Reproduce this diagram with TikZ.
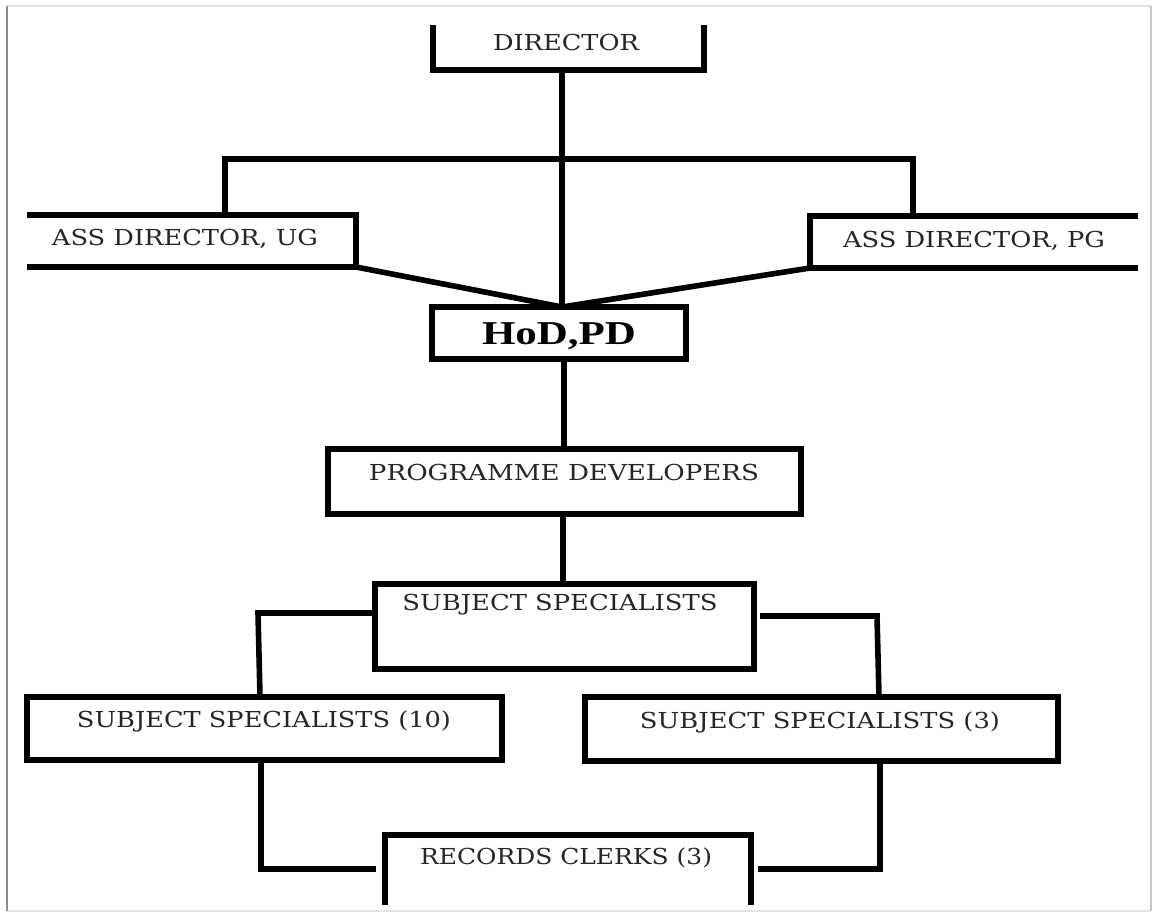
\documentclass[tikz,border=0pt]{standalone}
\usepackage{fontspec}
\setmainfont{DejaVu Serif}
\newfontfamily\hodfont{Liberation Serif}
\usetikzlibrary{fit}
\newlength\pxu
\setlength\pxu{0.75pt}
% set a label to a given width (in px units), keeping its height
\newcommand\fitw[2]{\resizebox{#1\pxu}{\height}{#2}}

\begin{document}
\begin{tikzpicture}[x=0.75pt,y=-0.75pt,
  wire/.style={line width=4.2pt, line join=miter},
  boxed/.style={draw, line width=4.2pt, inner sep=0pt, outer sep=0pt},
  lbl/.style={inner sep=0pt, text=black!85,
    font=\fontsize{16.5pt}{18pt}\selectfont},
  hodlbl/.style={inner sep=0pt, text=black,
    font=\hodfont\bfseries\fontsize{25pt}{27pt}\selectfont}]

% page and its soft frame
\fill[white] (0,0) rectangle (1155,914);
\useasboundingbox (0,0) rectangle (1155,914);
\draw[black!12, line width=1.5pt] (7,6) -- (1151,6);
\draw[black!10, line width=1.5pt] (7,911) -- (1151,911);
\draw[black!45, line width=2pt] (7,6) -- (7,911);
\draw[black!22, line width=1.5pt] (1151,6) -- (1151,911);

% Director (open at the top)
\coordinate (dirTL) at (433,25);
\coordinate (dirBL) at (433,70);
\coordinate (dirBR) at (704,70);
\coordinate (dirTR) at (704,25);
\coordinate (dirS) at (562,70);
\draw[wire] (dirTL) -- (dirBL) -- (dirBR) -- (dirTR);
\node[lbl] (director) at (566,42) {\fitw{146}{DIRECTOR}};

% Assistant directors (open at the outer side)
\coordinate (ugTL) at (27,215);
\coordinate (ugTR) at (356,215);
\coordinate (ugBR) at (356,267);
\coordinate (ugBL) at (27,267);
\draw[wire] (ugTL) -- (ugTR) -- (ugBR) -- (ugBL);
\node[lbl] (assug) at (185,239) {\fitw{266}{ASS DIRECTOR, UG}};

\coordinate (pgTR) at (1138,216);
\coordinate (pgTL) at (810,216);
\coordinate (pgBL) at (810,268);
\coordinate (pgBR) at (1138,268);
\draw[wire] (pgTR) -- (pgTL) -- (pgBL) -- (pgBR);
\node[lbl] (asspg) at (974,241) {\fitw{262}{ASS DIRECTOR, PG}};

% HoD and the lower boxes
\node[boxed, fit={(432,307) (686,359)}] (hod) {};
\node[hodlbl] (hodtxt) at (559,336) {\fitw{154}{HoD,PD}};

\node[boxed, fit={(328,449) (801,514)}] (pd) {};
\node[lbl] (pdtxt) at (564,472) {\fitw{390}{PROGRAMME DEVELOPERS}};

\node[boxed, fit={(375,584) (754,669)}] (ss) {};
\node[lbl] (sstxt) at (560,605) {\fitw{315}{SUBJECT SPECIALISTS}};

\node[boxed, fit={(27,697) (502,760)}] (ssten) {};
\node[lbl] (sstentxt) at (264,721) {\fitw{374}{SUBJECT SPECIALISTS (10)}};

\node[boxed, fit={(585,697) (1058,761)}] (ssthree) {};
\node[lbl] (ssthreetxt) at (820,722) {\fitw{360}{SUBJECT SPECIALISTS (3)}};

% Records clerks (open at the bottom)
\coordinate (rcBL) at (385,905);
\coordinate (rcTL) at (385,835);
\coordinate (rcTR) at (751,835);
\coordinate (rcBR) at (751,905);
\draw[wire] (rcBL) -- (rcTL) -- (rcTR) -- (rcBR);
\node[lbl] (rctxt) at (566,858) {\fitw{292}{RECORDS CLERKS (3)}};

% connectors
\coordinate (barL) at (225,159);
\coordinate (barR) at (913,159);
\coordinate (ugN) at (225,215);
\coordinate (pgN) at (913,216);
\draw[wire] (dirS) -- (hod.north -| dirS);
\draw[wire] (ugN) -- (barL) -- (barR) -- (pgN);
\draw[wire] (ugBR) -- (hod.north -| dirS);
\draw[wire] (pgBL) -- (hod.north -| dirS);
\draw[wire] (hod.south -| 564,0) -- (pd.north -| 564,0);
\draw[wire] (pd.south -| 563,0) -- (ss.north -| 563,0);

\coordinate (ssL) at (375,613);
\coordinate (ssLc) at (258,613);
\coordinate (ssR) at (760,616);
\coordinate (ssRc) at (877,616);
\draw[wire] (ssL) -- (ssLc) -- (ssten.north -| 260,0);
\draw[wire] (ssR) -- (ssRc) -- (ssthree.north -| 879,0);

\coordinate (rcL) at (376,869);
\coordinate (rcLc) at (261,869);
\coordinate (rcR) at (758,869);
\coordinate (rcRc) at (880,869);
\draw[wire] (ssten.south -| rcLc) -- (rcLc) -- (rcL);
\draw[wire] (ssthree.south -| rcRc) -- (rcRc) -- (rcR);

\end{tikzpicture}
\end{document}
